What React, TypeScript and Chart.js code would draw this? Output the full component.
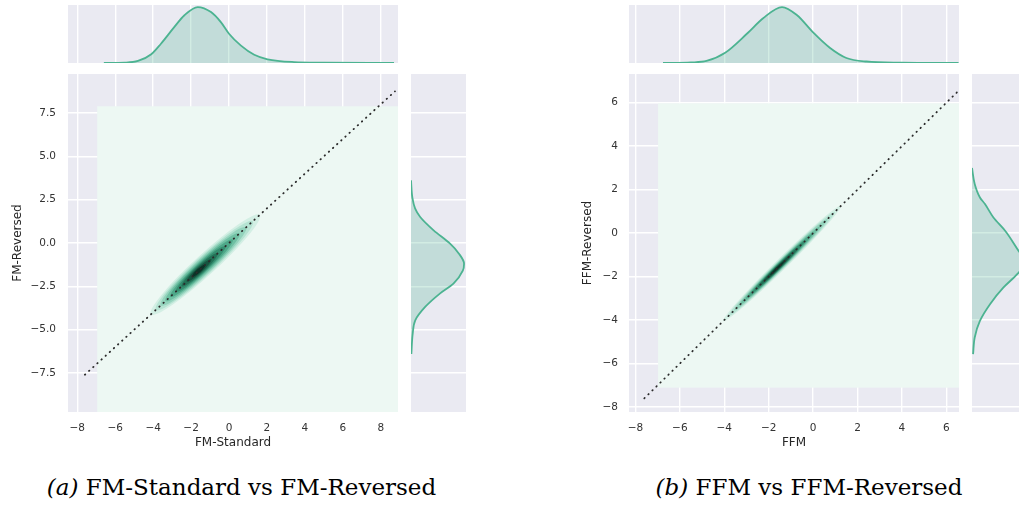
import React, { useEffect, useRef } from "react";
import { Chart, registerables } from "chart.js";
Chart.register(...registerables);

// ---------------- data ----------------
// panel (a)
const aXTicks = [-8, -6, -4, -2, 0, 2, 4, 6, 8];
const aXTickLabels = ["−8", "−6", "−4", "−2", "0", "2", "4", "6", "8"];
const aYTicks = [-7.5, -5, -2.5, 0, 2.5, 5, 7.5];
const aYTickLabels = ["−7.5", "−5.0", "−2.5", "0.0", "2.5", "5.0", "7.5"];
const aXRange = [-8.49, 8.91];
const aYRange = [-9.75, 9.75];
const aDiagonal = [-7.6, 8.75];
const aTopX = [-6.6, -5.5, -4.8, -4.1, -3.6, -2.9, -2.35, -1.65, -0.95, -0.42, 0, 0.63, 1.33, 2.03, 3.43, 5, 8.7];
const aTopDensity = [0, 0.002, 0.011, 0.047, 0.102, 0.191, 0.256, 0.3, 0.273, 0.218, 0.157, 0.093, 0.044, 0.02, 0.005, 0.002, 0];
const aRightY = [3.62, 2.6, 2.0, 1.5, 0.73, -0.04, -0.6, -1.19, -1.6, -2.34, -2.92, -3.69, -4.46, -5.2, -6.4];
const aRightDensity = [0, 0.008, 0.023, 0.052, 0.128, 0.221, 0.27, 0.3, 0.293, 0.24, 0.163, 0.08, 0.024, 0.01, 0.002];
const aKdeFloor = [-6.95, 8.91, -9.75, 7.89]; // xMin, xMax, yMin, yMax of lowest level
const aKdeCenter = [-1.25, -1.3, -1.35, -1.4, -1.45, -1.5, -1.55, -1.58, -1.6];
const aKdeHalfLength = [2.87, 2.55, 2.25, 1.95, 1.65, 1.3, 0.95, 0.65, 0.35];
const aKdeHalfWidth = [0.55, 0.48, 0.42, 0.36, 0.3, 0.25, 0.2, 0.15, 0.1];

// panel (b)
const bXTicks = [-8, -6, -4, -2, 0, 2, 4, 6];
const bXTickLabels = ["−8", "−6", "−4", "−2", "0", "2", "4", "6"];
const bYTicks = [-8, -6, -4, -2, 0, 2, 4, 6];
const bYTickLabels = ["−8", "−6", "−4", "−2", "0", "2", "4", "6"];
const bXRange = [-8.29, 6.57];
const bYRange = [-8.23, 7.32];
const bDiagonal = [-7.6, 6.57];
const bTopX = [-6.76, -5.5, -4.8, -3.96, -2.97, -2.25, -1.4, -0.72, 0, 0.75, 1.5, 2.4, 4, 6.55];
const bTopDensity = [0, 0.003, 0.011, 0.055, 0.158, 0.24, 0.3, 0.256, 0.164, 0.082, 0.027, 0.008, 0.002, 0];
const bRightY = [3.0, 2.26, 1.64, 1.34, 0.72, 0.1, -0.83, -1.3, -1.89, -2.5, -3.27, -4.04, -4.8, -5.57];
const bRightDensity = [0, 0.015, 0.044, 0.072, 0.119, 0.185, 0.26, 0.3, 0.251, 0.175, 0.1, 0.044, 0.015, 0.006];
const bKdeFloor = [-6.98, 6.57, -7.11, 5.97];
const bKdeCenter = [-1.4, -1.42, -1.45, -1.5, -1.52, -1.55, -1.58, -1.6, -1.62];
const bKdeHalfLength = [2.65, 2.4, 2.1, 1.8, 1.5, 1.2, 0.9, 0.6, 0.32];
const bKdeHalfWidth = [0.25, 0.21, 0.18, 0.15, 0.13, 0.11, 0.09, 0.07, 0.045];

const densityMax = 0.311;

// ---------------- styles ----------------
const AX_BG = "#eaeaf2";
const GRID = "#ffffff";
const LINE = "#4cb391";
const FILL = "rgba(76,179,145,0.25)";
const FLOOR = "#edf8f3";
const KDE_COLORS = ["#d3efe4", "#b5e3d2", "#93d3bc", "#6fc0a3", "#4ea889", "#358e70", "#237257", "#16543f", "#0c3327"];

Chart.defaults.font.family = "'DejaVu Sans', sans-serif";

const bgPlugin = {
  id: "axbg",
  beforeDraw(chart: any) {
    const { ctx, chartArea } = chart;
    ctx.save();
    ctx.fillStyle = AX_BG;
    ctx.fillRect(chartArea.left, chartArea.top, chartArea.right - chartArea.left, chartArea.bottom - chartArea.top);
    ctx.restore();
  },
};

const kdePlugin = {
  id: "kde",
  beforeDatasetsDraw(chart: any, _args: any, opts: any) {
    if (!opts || !opts.floor) return;
    const { ctx, chartArea } = chart;
    const x = chart.scales.x;
    const y = chart.scales.y;
    ctx.save();
    ctx.beginPath();
    ctx.rect(chartArea.left, chartArea.top, chartArea.right - chartArea.left, chartArea.bottom - chartArea.top);
    ctx.clip();
    const [x0, x1, y0, y1] = opts.floor;
    const px0 = x.getPixelForValue(x0);
    const px1 = x.getPixelForValue(x1);
    const py0 = y.getPixelForValue(y0);
    const py1 = y.getPixelForValue(y1);
    ctx.fillStyle = FLOOR;
    ctx.fillRect(Math.min(px0, px1), Math.min(py0, py1), Math.abs(px1 - px0), Math.abs(py1 - py0));
    const n = opts.center.length;
    for (let i = 0; i < n; i++) {
      const c = opts.center[i];
      const a = opts.halfLength[i];
      const w = opts.halfWidth[i];
      const ax = x.getPixelForValue(c - a);
      const ay = y.getPixelForValue(c - a);
      const bx = x.getPixelForValue(c + a);
      const by = y.getPixelForValue(c + a);
      const cx = (ax + bx) / 2;
      const cy = (ay + by) / 2;
      const rot = Math.atan2(by - ay, bx - ax);
      const rx = Math.hypot(bx - ax, by - ay) / 2;
      const ry = Math.abs(x.getPixelForValue(w) - x.getPixelForValue(0));
      ctx.beginPath();
      ctx.ellipse(cx, cy, rx, ry, rot, 0, Math.PI * 2);
      ctx.fillStyle = KDE_COLORS[i];
      ctx.fill();
    }
    ctx.restore();
  },
};

type Panel = {
  xTicks: number[]; xLabels: string[]; yTicks: number[]; yLabels: string[];
  xRange: number[]; yRange: number[]; diag: number[];
  topX: number[]; topD: number[]; rightY: number[]; rightD: number[];
  floor: number[]; center: number[]; halfLength: number[]; halfWidth: number[];
  xTitle: string; yTitle: string; yAxisWidth: number; yTickPad: number; yTitlePad: number;
};

const zeroPad = (s: any) => {
  s.paddingTop = 0;
  s.paddingBottom = 0;
  s.paddingLeft = 0;
  s.paddingRight = 0;
};

function mainConfig(p: Panel): any {
  return {
    type: "line",
    data: {
      datasets: [
        {
          data: [{ x: p.diag[0], y: p.diag[0] }, { x: p.diag[1], y: p.diag[1] }],
          borderColor: "#2b2b2b",
          borderWidth: 1.8,
          borderDash: [0.5, 5.1],
          borderCapStyle: "round",
          pointRadius: 0,
          fill: false,
        },
      ],
    },
    options: {
      responsive: false,
      animation: false,
      events: [],
      layout: { padding: { top: 10, right: 2, left: 0, bottom: 0 } },
      plugins: {
        legend: { display: false },
        tooltip: { enabled: false },
        kde: { floor: p.floor, center: p.center, halfLength: p.halfLength, halfWidth: p.halfWidth },
      },
      scales: {
        x: {
          type: "linear",
          min: p.xRange[0],
          max: p.xRange[1],
          afterBuildTicks: (s: any) => { s.ticks = p.xTicks.map((v) => ({ value: v })); },
          afterFit: (s: any) => { s.height = 48; zeroPad(s); },
          grid: { color: GRID, lineWidth: 1.4, drawTicks: false },
          border: { display: false },
          ticks: { padding: 10, color: "#333", font: { size: 10.5 }, maxRotation: 0, autoSkip: false, callback: (_v: any, i: number) => p.xLabels[i] },
          title: { display: true, text: p.xTitle, color: "#262626", font: { size: 12 }, padding: { top: 0, bottom: 9.8 } },
        },
        y: {
          type: "linear",
          min: p.yRange[0],
          max: p.yRange[1],
          afterBuildTicks: (s: any) => { s.ticks = p.yTicks.map((v) => ({ value: v })); },
          afterFit: (s: any) => { s.width = p.yAxisWidth; zeroPad(s); },
          grid: { color: GRID, lineWidth: 1.4, drawTicks: false },
          border: { display: false },
          ticks: { padding: p.yTickPad, color: "#333", font: { size: 10.5 }, autoSkip: false, callback: (_v: any, i: number) => p.yLabels[i] },
          title: { display: true, text: p.yTitle, color: "#262626", font: { size: 12 }, padding: { top: p.yTitlePad, bottom: 0 } },
        },
      },
    },
    plugins: [bgPlugin, kdePlugin],
  };
}

function topConfig(p: Panel): any {
  return {
    type: "line",
    data: {
      datasets: [
        {
          data: p.topX.map((v, i) => ({ x: v, y: p.topD[i] })),
          borderColor: LINE,
          backgroundColor: FILL,
          borderWidth: 1.8,
          pointRadius: 0,
          fill: "origin",
          cubicInterpolationMode: "monotone",
        },
      ],
    },
    options: {
      responsive: false,
      animation: false,
      events: [],
      layout: { padding: 0 },
      plugins: { legend: { display: false }, tooltip: { enabled: false } },
      scales: {
        x: {
          type: "linear",
          min: p.xRange[0],
          max: p.xRange[1],
          afterBuildTicks: (s: any) => { s.ticks = p.xTicks.map((v) => ({ value: v })); },
          afterFit: (s: any) => { s.height = 0; zeroPad(s); },
          grid: { color: GRID, lineWidth: 1.4, drawTicks: false },
          border: { display: false },
          ticks: { display: false },
        },
        y: { type: "linear", min: 0, max: densityMax, display: false },
      },
    },
    plugins: [bgPlugin],
  };
}

function rightConfig(p: Panel): any {
  return {
    type: "line",
    data: {
      datasets: [
        {
          data: p.rightY.map((v, i) => ({ x: p.rightD[i], y: v })),
          borderColor: LINE,
          backgroundColor: FILL,
          borderWidth: 1.8,
          pointRadius: 0,
          fill: "origin",
          cubicInterpolationMode: "monotone",
        },
      ],
    },
    options: {
      responsive: false,
      animation: false,
      events: [],
      indexAxis: "y",
      layout: { padding: 0 },
      plugins: { legend: { display: false }, tooltip: { enabled: false } },
      scales: {
        y: {
          type: "linear",
          min: p.yRange[0],
          max: p.yRange[1],
          afterBuildTicks: (s: any) => { s.ticks = p.yTicks.map((v) => ({ value: v })); },
          afterFit: (s: any) => { s.width = 0; zeroPad(s); },
          grid: { color: GRID, lineWidth: 1.4, drawTicks: false },
          border: { display: false },
          ticks: { display: false },
        },
        x: { type: "linear", min: 0, max: densityMax, display: false },
      },
    },
    plugins: [bgPlugin],
  };
}

function ChartBox({ left, top, width, height, make }: { left: number; top: number; width: number; height: number; make: () => any }) {
  const ref = useRef<HTMLCanvasElement>(null);
  useEffect(() => {
    const chart = new Chart(ref.current as HTMLCanvasElement, make());
    return () => chart.destroy();
  }, []);
  return (
    <div style={{ position: "absolute", left, top, width, height }}>
      <canvas ref={ref} width={width} height={height} style={{ display: "block" }} />
    </div>
  );
}

const panelA: Panel = {
  xTicks: aXTicks, xLabels: aXTickLabels, yTicks: aYTicks, yLabels: aYTickLabels,
  xRange: aXRange, yRange: aYRange, diag: aDiagonal,
  topX: aTopX, topD: aTopDensity, rightY: aRightY, rightD: aRightDensity,
  floor: aKdeFloor, center: aKdeCenter, halfLength: aKdeHalfLength, halfWidth: aKdeHalfWidth,
  xTitle: "FM-Standard", yTitle: "FM-Reversed", yAxisWidth: 68, yTickPad: 12, yTitlePad: 10.3,
};

const panelB: Panel = {
  xTicks: bXTicks, xLabels: bXTickLabels, yTicks: bYTicks, yLabels: bYTickLabels,
  xRange: bXRange, yRange: bYRange, diag: bDiagonal,
  topX: bTopX, topD: bTopDensity, rightY: bRightY, rightD: bRightDensity,
  floor: bKdeFloor, center: bKdeCenter, halfLength: bKdeHalfLength, halfWidth: bKdeHalfWidth,
  xTitle: "FFM", yTitle: "FFM-Reversed", yAxisWidth: 59, yTickPad: 11, yTitlePad: 10.8,
};

const captionStyle: React.CSSProperties = {
  position: "absolute",
  top: 473,
  width: 520,
  height: 28,
  lineHeight: "28px",
  fontFamily: "'DejaVu Serif', serif",
  fontSize: 23,
  color: "#000",
  textAlign: "center",
  whiteSpace: "nowrap",
};

export default function App() {
  return (
    <div style={{ position: "absolute", left: 0, top: 0, width: 1019, height: 506, overflow: "hidden", background: "#fff" }}>
      <ChartBox left={0} top={64} width={400} height={396} make={() => mainConfig(panelA)} />
      <ChartBox left={68} top={5} width={330} height={58} make={() => topConfig(panelA)} />
      <ChartBox left={411} top={74} width={55} height={338} make={() => rightConfig(panelA)} />

      <ChartBox left={570} top={64} width={391} height={396} make={() => mainConfig(panelB)} />
      <ChartBox left={629} top={5} width={330} height={58} make={() => topConfig(panelB)} />
      <ChartBox left={972} top={74} width={56} height={338} make={() => rightConfig(panelB)} />

      <div style={{ ...captionStyle, left: 241.5 - 260 }}>
        <i>(a)</i> FM-Standard vs FM-Reversed
      </div>
      <div style={{ ...captionStyle, left: 809 - 260 }}>
        <i>(b)</i> FFM vs FFM-Reversed
      </div>
    </div>
  );
}
